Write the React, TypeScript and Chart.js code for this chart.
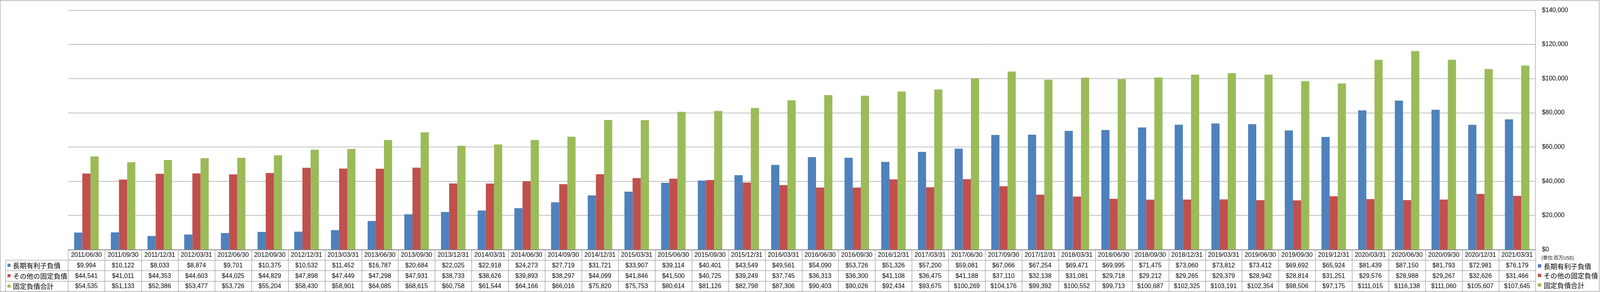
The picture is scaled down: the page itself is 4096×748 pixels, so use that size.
import React, { useEffect, useRef } from "react";
import { Chart, registerables } from "chart.js";

Chart.register(...registerables);

const categories = [
  "2011/06/30", "2011/09/30", "2011/12/31", "2012/03/31", "2012/06/30", "2012/09/30", "2012/12/31", "2013/03/31",
  "2013/06/30", "2013/09/30", "2013/12/31", "2014/03/31", "2014/06/30", "2014/09/30", "2014/12/31", "2015/03/31",
  "2015/06/30", "2015/09/30", "2015/12/31", "2016/03/31", "2016/06/30", "2016/09/30", "2016/12/31", "2017/03/31",
  "2017/06/30", "2017/09/30", "2017/12/31", "2018/03/31", "2018/06/30", "2018/09/30", "2018/12/31", "2019/03/31",
  "2019/06/30", "2019/09/30", "2019/12/31", "2020/03/31", "2020/06/30", "2020/09/30", "2020/12/31", "2021/03/31",
];

const longTermDebt = [
  9994, 10122, 8033, 8874, 9701, 10375, 10532, 11452, 16787, 20684, 22025, 22918, 24273, 27719, 31721, 33907,
  39114, 40401, 43549, 49561, 54090, 53726, 51326, 57200, 59081, 67066, 67254, 69471, 69995, 71475, 73060, 73812,
  73412, 69692, 65924, 81439, 87150, 81793, 72981, 76179,
];

const otherFixedLiabilities = [
  44541, 41011, 44353, 44603, 44025, 44829, 47898, 47449, 47298, 47931, 38733, 38626, 39893, 38297, 44099, 41846,
  41500, 40725, 39249, 37745, 36313, 36300, 41108, 36475, 41188, 37110, 32138, 31081, 29718, 29212, 29265, 29379,
  28942, 28814, 31251, 29576, 28988, 29267, 32626, 31466,
];

const totalFixedLiabilities = [
  54535, 51133, 52386, 53477, 53726, 55204, 58430, 58901, 64085, 68615, 60758, 61544, 64166, 66016, 75820, 75753,
  80614, 81126, 82798, 87306, 90403, 90026, 92434, 93675, 100269, 104176, 99392, 100552, 99713, 100687, 102325, 103191,
  102354, 98506, 97175, 111015, 116138, 111060, 105607, 107645,
];

const seriesNames = ["長期有利子負債", "その他の固定負債", "固定負債合計"];
const seriesColors = ["#4F81BD", "#C0504D", "#9BBB59"];
const unitLabel = "(単位:百万USD)";
const yMin = 0;
const yMax = 140000;
const yStep = 20000;

const W = 4096;
const H = 748;
const S = 0.871;
const GRAY = "#868686";
const NUM_FONT = "16px 'Liberation Sans', Arial, sans-serif";
const JP_FONT = "17.4px 'Noto Sans CJK JP', sans-serif";
const UNIT_FONT = "12.2px 'Noto Sans CJK JP', sans-serif";

const fmt = (v: number) => "$" + v.toLocaleString("en-US");

const tablePlugin = {
  id: "dataTable",
  afterDraw(chart: any) {
    const ctx = chart.ctx as CanvasRenderingContext2D;
    const xs = chart.scales.x;
    const ys = chart.scales.y;
    const area = chart.chartArea;
    const n = categories.length;
    const colW = (area.right - area.left) / n;
    const top = ys.getPixelForValue(0);
    const rowH = 30.6 * S;
    const labelLeft = 16 * S;
    const snap = (v: number) => Math.round(v) + 0.5;
    const line = (x1: number, y1: number, x2: number, y2: number) => {
      ctx.beginPath();
      ctx.moveTo(x1, y1);
      ctx.lineTo(x2, y2);
      ctx.stroke();
    };
    const series = [longTermDebt, otherFixedLiabilities, totalFixedLiabilities];

    ctx.save();
    ctx.strokeStyle = GRAY;
    ctx.lineWidth = 1;
    // horizontal lines
    line(area.left, snap(top), area.right, snap(top));
    for (let r = 1; r <= 4; r++) {
      const y = snap(top + r * rowH);
      line(snap(labelLeft), y, area.right, y);
    }
    // vertical lines
    for (let i = 0; i <= n; i++) {
      const x = snap(area.left + i * colW);
      line(x, snap(top), x, snap(top + 4 * rowH));
    }
    line(snap(labelLeft), snap(top + rowH), snap(labelLeft), snap(top + 4 * rowH));

    // header
    ctx.fillStyle = "#000";
    ctx.textAlign = "center";
    ctx.textBaseline = "middle";
    ctx.font = NUM_FONT;
    categories.forEach((c, i) => {
      ctx.fillText(c, xs.getPixelForValue(i), top + rowH / 2 + 1);
    });
    // values
    series.forEach((arr, r) => {
      const yc = top + (r + 1.5) * rowH + 1;
      arr.forEach((v, i) => {
        ctx.fillText(fmt(v), xs.getPixelForValue(i), yc);
      });
    });
    // row labels
    ctx.textAlign = "left";
    ctx.font = JP_FONT;
    const sq = 9 * S;
    seriesNames.forEach((name, r) => {
      const yc = top + (r + 1.5) * rowH;
      ctx.fillStyle = seriesColors[r];
      ctx.fillRect(22 * S, yc - sq / 2, sq, sq);
      ctx.fillStyle = "#000";
      ctx.fillText(name, 38 * S, yc + 1);
    });

    // right legend
    const legendCenters = [782, 810, 838];
    const lsq = 10 * S;
    seriesNames.forEach((name, r) => {
      const yc = legendCenters[r] * S;
      ctx.fillStyle = seriesColors[r];
      ctx.fillRect(4520 * S, yc - lsq / 2, lsq, lsq);
      ctx.fillStyle = "#000";
      ctx.font = JP_FONT;
      ctx.fillText(name, 4537 * S, yc + 1);
    });

    // unit label
    ctx.font = UNIT_FONT;
    ctx.fillStyle = "#000";
    ctx.fillText(unitLabel, 4530 * S, 758 * S);

    // outer border
    ctx.strokeStyle = GRAY;
    ctx.strokeRect(0.5, 1.5, W - 2.5, 746.5 - 1.5);
    ctx.restore();
  },
};

export default function App() {
  const canvasRef = useRef<HTMLCanvasElement | null>(null);

  useEffect(() => {
    const canvas = canvasRef.current;
    if (!canvas) return;
    const chart = new Chart(canvas, {
      type: "bar",
      data: {
        labels: categories,
        datasets: [
          { label: seriesNames[0], data: longTermDebt, backgroundColor: seriesColors[0] },
          { label: seriesNames[1], data: otherFixedLiabilities, backgroundColor: seriesColors[1] },
          { label: seriesNames[2], data: totalFixedLiabilities, backgroundColor: seriesColors[2] },
        ],
      },
      options: {
        responsive: false,
        animation: false,
        devicePixelRatio: 1,
        layout: { padding: { left: 200 * S, right: 0, top: 13 * S, bottom: H - 734.3 * S } },
        datasets: { bar: { barPercentage: 1, categoryPercentage: 0.668, borderWidth: 0 } },
        plugins: { legend: { display: false }, tooltip: { enabled: false } },
        scales: {
          x: { display: false, offset: true },
          y: {
            position: "right",
            min: yMin,
            max: yMax,
            ticks: {
              stepSize: yStep,
              padding: 16.6,
              color: "#000",
              font: { family: "'Liberation Sans', Arial, sans-serif", size: 16 },
              callback: (v: any) => fmt(Number(v)),
            },
            grid: { color: GRAY, lineWidth: 1, drawTicks: false },
            border: { display: true, color: GRAY, width: 1 },
            afterFit: (scale: any) => {
              scale.width = W - 4513 * S;
            },
          },
        },
      },
      plugins: [tablePlugin],
    });
    return () => chart.destroy();
  }, []);

  return (
    <div style={{ position: "absolute", left: 0, top: 0, width: W, height: H, background: "#fff" }}>
      <canvas ref={canvasRef} width={W} height={H} style={{ display: "block", width: W, height: H }} />
    </div>
  );
}
